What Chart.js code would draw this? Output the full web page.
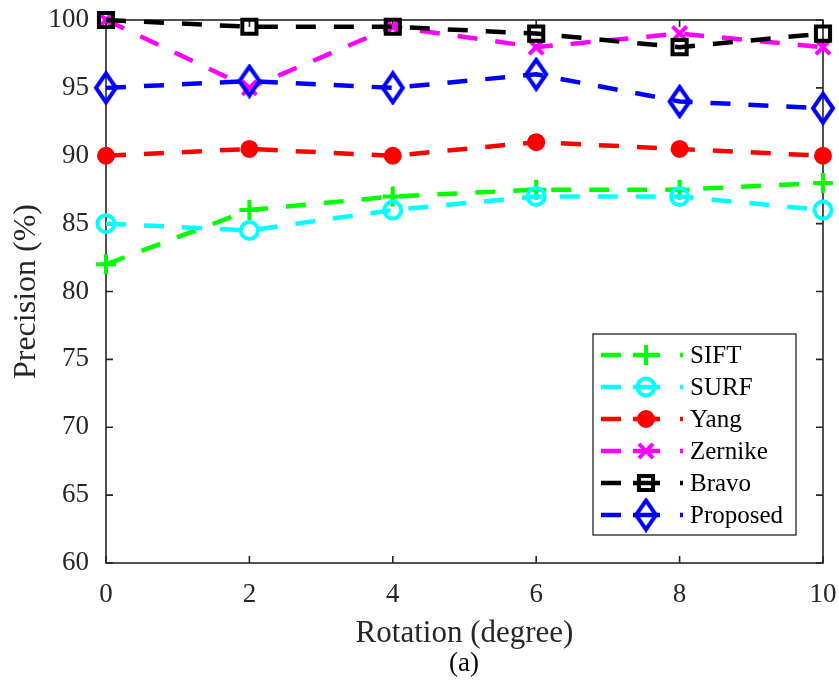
<!DOCTYPE html>
<html>
<head>
<meta charset="utf-8">
<script src="https://cdn.jsdelivr.net/npm/chart.js@4/dist/chart.umd.min.js"></script>
<style>
  html, body { margin: 0; padding: 0; background: #fff; }
  #wrap { width: 839px; height: 689px; }
</style>
</head>
<body>
<div id="wrap"><canvas id="prec" width="839" height="689"></canvas></div>
<script>
// rotation angles (degree)
const rotations = [0, 2, 4, 6, 8, 10];

// precision (%) of each method
const siftVals = [82, 86, 87, 87.5, 87.5, 88];
const surfVals = [85, 84.5, 86, 87, 87, 86];
const yangVals = [90, 90.5, 90, 91, 90.5, 90];
const zernikeVals = [100, 95, 99.5, 98, 99, 98];
const bravoVals = [100, 99.5, 99.5, 99, 98, 99];
const proposedVals = [95, 95.5, 95, 96, 94, 93.5];

const xTicks = [0, 2, 4, 6, 8, 10];
const yTicks = [60, 65, 70, 75, 80, 85, 90, 95, 100];

const serif = "'Liberation Serif', 'Times New Roman', serif";
const axisColor = '#262626';

// tall hollow diamond, like the matlab 'd' marker
function makeDiamond(color) {
  const c = document.createElement('canvas');
  c.width = 26; c.height = 35;
  const g = c.getContext('2d');
  g.strokeStyle = color;
  g.lineWidth = 4;
  g.lineJoin = 'miter';
  g.beginPath();
  g.moveTo(13, 3);
  g.lineTo(23, 17.5);
  g.lineTo(13, 32);
  g.lineTo(3, 17.5);
  g.closePath();
  g.stroke();
  return c;
}
const diamond = makeDiamond('#0000ff');

function series(label, vals, color, style, radius, fill, order) {
  return {
    label: label,
    data: rotations.map((r, i) => ({ x: r, y: vals[i] })),
    borderColor: color,
    backgroundColor: color,
    borderWidth: 4.5,
    borderDash: [20, 18],
    pointStyle: style,
    pointRadius: radius,
    pointHoverRadius: radius,
    pointBorderWidth: 4,
    pointBorderColor: color,
    pointBackgroundColor: fill ? color : 'rgba(0,0,0,0)',
    tension: 0,
    fill: false,
    clip: false,
    order: order
  };
}

const datasets = [
  series('SIFT', siftVals, '#00ff00', 'cross', 10, false, 6),
  series('SURF', surfVals, '#00ffff', 'circle', 8.5, false, 5),
  series('Yang', yangVals, '#ff0000', 'circle', 7, true, 4),
  series('Zernike', zernikeVals, '#ff00ff', 'crossRot', 10, false, 3),
  series('Bravo', bravoVals, '#000000', 'rect', 10, false, 2),
  series('Proposed', proposedVals, '#0000ff', diamond, 10, false, 1)
];

// box around the axes with inward ticks on all four sides
const frame = {
  id: 'frame',
  beforeDatasetsDraw(chart) {
    const { ctx, chartArea: a, scales } = chart;
    const tl = 7;
    ctx.save();
    ctx.strokeStyle = axisColor;
    ctx.lineWidth = 1.6;
    ctx.strokeRect(a.left, a.top, a.right - a.left, a.bottom - a.top);
    ctx.beginPath();
    for (const t of xTicks) {
      const px = scales.x.getPixelForValue(t);
      ctx.moveTo(px, a.bottom); ctx.lineTo(px, a.bottom - tl);
      ctx.moveTo(px, a.top); ctx.lineTo(px, a.top + tl);
    }
    for (const t of yTicks) {
      const py = scales.y.getPixelForValue(t);
      ctx.moveTo(a.left, py); ctx.lineTo(a.left + tl, py);
      ctx.moveTo(a.right, py); ctx.lineTo(a.right - tl, py);
    }
    ctx.stroke();
    ctx.restore();
  }
};

// legend box in the lower right, dashed line + marker per entry
const boxLegend = {
  id: 'boxLegend',
  afterDatasetsDraw(chart) {
    const ctx = chart.ctx;
    const x0 = 593, y0 = 334, w = 203, h = 201;
    const rowH = 32;
    ctx.save();
    ctx.fillStyle = '#fff';
    ctx.fillRect(x0, y0, w, h);
    ctx.strokeStyle = axisColor;
    ctx.lineWidth = 1.3;
    ctx.strokeRect(x0, y0, w, h);
    chart.data.datasets.forEach((ds, i) => {
      const y = 355 + i * rowH;
      ctx.strokeStyle = ds.borderColor;
      ctx.lineWidth = 4.5;
      ctx.setLineDash([]);
      ctx.beginPath();
      ctx.moveTo(601, y); ctx.lineTo(621, y);
      ctx.moveTo(633, y); ctx.lineTo(660, y);
      ctx.moveTo(680, y); ctx.lineTo(683, y);
      ctx.stroke();
      if (ds.pointStyle instanceof HTMLCanvasElement) {
        ctx.drawImage(ds.pointStyle, 646 - ds.pointStyle.width / 2, y - ds.pointStyle.height / 2);
      } else {
        ctx.fillStyle = ds.pointBackgroundColor;
        ctx.strokeStyle = ds.pointBorderColor;
        ctx.lineWidth = ds.pointBorderWidth;
        Chart.helpers.drawPoint(ctx, {
          pointStyle: ds.pointStyle,
          radius: ds.pointRadius,
          rotation: 0,
          borderWidth: ds.pointBorderWidth
        }, 646, y);
      }
      ctx.fillStyle = '#000';
      ctx.font = '25px ' + serif;
      ctx.textAlign = 'left';
      ctx.textBaseline = 'middle';
      ctx.fillText(ds.label, 690, y + 1);
    });
    ctx.restore();
  }
};

// sub-figure caption under the x axis
const caption = {
  id: 'caption',
  afterDraw(chart) {
    const ctx = chart.ctx;
    ctx.save();
    ctx.fillStyle = '#000';
    ctx.font = '27px ' + serif;
    ctx.textAlign = 'center';
    ctx.textBaseline = 'middle';
    ctx.fillText('(a)', 464, 664);
    ctx.restore();
  }
};

new Chart(document.getElementById('prec'), {
  type: 'line',
  data: { datasets: datasets },
  options: {
    responsive: false,
    animation: false,
    events: [],
    layout: { padding: { left: 0, right: 16, top: 20, bottom: 0 } },
    plugins: {
      legend: { display: false },
      tooltip: { enabled: false }
    },
    scales: {
      x: {
        type: 'linear',
        min: 0,
        max: 10,
        afterFit: s => { s.height = 126; s.paddingLeft = 0; s.paddingRight = 0; },
        afterBuildTicks: s => { s.ticks = xTicks.map(v => ({ value: v })); },
        grid: { display: false },
        border: { display: false },
        ticks: {
          padding: 8,
          color: axisColor,
          font: { family: serif, size: 27 },
          maxRotation: 0
        },
        title: {
          display: true,
          text: 'Rotation (degree)',
          color: axisColor,
          font: { family: serif, size: 31 },
          padding: { top: 0, bottom: 37 }
        }
      },
      y: {
        type: 'linear',
        min: 60,
        max: 100,
        afterFit: s => { s.width = 106; s.paddingTop = 0; s.paddingBottom = 0; },
        afterBuildTicks: s => { s.ticks = yTicks.map(v => ({ value: v })); },
        grid: { display: false },
        border: { display: false },
        ticks: {
          padding: 9,
          color: axisColor,
          font: { family: serif, size: 27 }
        },
        title: {
          display: true,
          text: 'Precision (%)',
          color: axisColor,
          font: { family: serif, size: 32 },
          padding: { top: 7, bottom: 0 }
        }
      }
    }
  },
  plugins: [frame, boxLegend, caption]
});
</script>
</body>
</html>
